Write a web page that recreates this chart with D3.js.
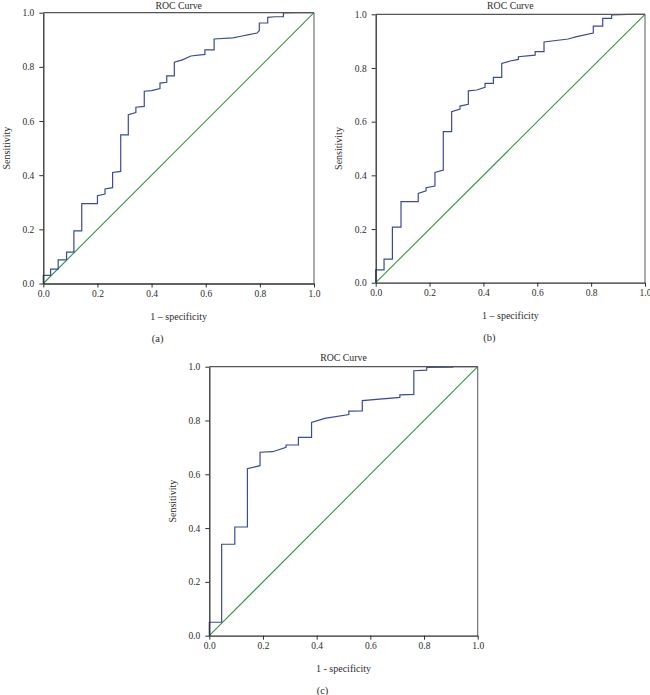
<!DOCTYPE html>
<html>
<head>
<meta charset="utf-8">
<script src="https://cdn.jsdelivr.net/npm/d3@7"></script>
<style>
  html, body { margin: 0; padding: 0; background: #fff; }
  svg { display: block; }
  text { font-family: "Liberation Serif", "Times New Roman", serif; fill: #2b2b2b; }
</style>
</head>
<body>
<svg id="chart" width="650" height="695"></svg>
<script>
// ---- Data ----
const panelLetters = ["(a)", "(b)", "(c)"];
const chartTitle = "ROC Curve";
const xLabel = "1 \u2013 specificity";
const xLabelC = "1 - specificity";
const yLabel = "Sensitivity";
const tickValues = [0, 0.2, 0.4, 0.6, 0.8, 1.0];
const diagonal = [[0, 0], [1, 1]];

// ROC curve points [1 - specificity, sensitivity]
const rocA = [[0,0],[0,0.03],[0.027,0.03],[0.027,0.053],[0.055,0.053],[0.055,0.087],[0.086,0.087],[0.086,0.116],
  [0.113,0.116],[0.113,0.194],[0.142,0.194],[0.142,0.295],[0.2,0.295],[0.2,0.324],[0.228,0.33],[0.228,0.349],
  [0.256,0.354],[0.256,0.41],[0.286,0.414],[0.286,0.549],[0.314,0.549],[0.314,0.623],[0.342,0.631],[0.342,0.651],
  [0.373,0.654],[0.373,0.71],[0.4,0.712],[0.431,0.72],[0.431,0.74],[0.456,0.743],[0.456,0.767],[0.484,0.767],
  [0.484,0.817],[0.514,0.826],[0.545,0.84],[0.597,0.846],[0.597,0.863],[0.631,0.863],[0.631,0.903],[0.7,0.907],
  [0.73,0.913],[0.76,0.919],[0.79,0.925],[0.798,0.934],[0.798,0.962],[0.829,0.962],[0.829,0.983],[0.856,0.985],
  [0.887,0.985],[0.887,0.999],[0.941,1.0],[1,1]];
const rocB = [[0,0],[0,0.048],[0.031,0.048],[0.031,0.088],[0.062,0.088],[0.062,0.207],[0.094,0.207],[0.094,0.302],
  [0.158,0.302],[0.158,0.333],[0.187,0.342],[0.187,0.354],[0.22,0.36],[0.22,0.411],[0.251,0.42],[0.251,0.563],
  [0.282,0.563],[0.282,0.637],[0.313,0.647],[0.313,0.658],[0.344,0.665],[0.344,0.715],[0.375,0.718],[0.406,0.728],
  [0.406,0.743],[0.437,0.743],[0.437,0.765],[0.468,0.765],[0.468,0.817],[0.499,0.826],[0.53,0.832],[0.53,0.842],
  [0.592,0.848],[0.592,0.861],[0.625,0.861],[0.625,0.897],[0.715,0.908],[0.746,0.917],[0.808,0.93],[0.808,0.956],
  [0.843,0.956],[0.843,0.985],[0.876,0.985],[0.876,0.998],[0.938,1.0],[1,1]];
const rocC = [[0,0],[0,0.05],[0.046,0.05],[0.046,0.34],[0.095,0.34],[0.095,0.404],[0.142,0.404],[0.142,0.621],
  [0.189,0.632],[0.189,0.682],[0.236,0.684],[0.286,0.7],[0.286,0.709],[0.332,0.709],[0.332,0.737],[0.381,0.737],
  [0.381,0.793],[0.43,0.808],[0.52,0.822],[0.52,0.835],[0.57,0.836],[0.57,0.874],[0.71,0.886],[0.71,0.895],
  [0.762,0.897],[0.762,0.985],[0.81,0.987],[0.81,0.997],[0.907,0.998],[0.907,1],[1,1]];

// ---- Layout ----
const panels = [
  { roc: rocA, letter: panelLetters[0], xl: xLabel,  x0: 43.3,  x1: 314,   y0: 12.7,  y1: 283.5 },
  { roc: rocB, letter: panelLetters[1], xl: xLabel,  x0: 375.7, x1: 645,   y0: 14.3,  y1: 282.7 },
  { roc: rocC, letter: panelLetters[2], xl: xLabelC, x0: 209.3, x1: 477.7, y0: 366.7, y1: 635.7 }
];

const svg = d3.select("#chart");
const axisColor = "#2e2e2e";
const curveColor = "#3a4a9c";
const diagColor = "#2f9a3c";

panels.forEach(p => {
  const x = d3.scaleLinear().domain([0, 1]).range([p.x0, p.x1]);
  const y = d3.scaleLinear().domain([0, 1]).range([p.y1, p.y0]);
  const g = svg.append("g");
  const line = d3.line().x(d => x(d[0])).y(d => y(d[1]));

  // diagonal reference line
  g.append("path").datum(diagonal).attr("d", line)
    .attr("fill", "none").attr("stroke", diagColor).attr("stroke-width", 1.1);

  // ROC curve
  g.append("path").datum(p.roc).attr("d", line)
    .attr("fill", "none").attr("stroke", curveColor).attr("stroke-width", 1.2)
    .attr("stroke-linejoin", "miter");

  // frame top and right
  g.append("line").attr("x1", x(0)).attr("x2", x(1)).attr("y1", y(1)).attr("y2", y(1))
    .attr("stroke", "#555").attr("stroke-width", 1.2);
  g.append("line").attr("x1", x(1)).attr("x2", x(1)).attr("y1", y(0)).attr("y2", y(1))
    .attr("stroke", "#666").attr("stroke-width", 1.1);

  // axes
  const fmt = d3.format(".1f");
  const xAxis = g.append("g").attr("transform", `translate(0,${p.y1})`)
    .call(d3.axisBottom(x).tickValues(tickValues).tickFormat(fmt).tickSize(4).tickPadding(3).tickSizeOuter(0));
  const yAxis = g.append("g").attr("transform", `translate(${p.x0},0)`)
    .call(d3.axisLeft(y).tickValues(tickValues).tickFormat(fmt).tickSize(4).tickPadding(5).tickSizeOuter(0));
  [xAxis, yAxis].forEach(a => {
    a.select(".domain").attr("stroke", axisColor).attr("stroke-width", 1.3);
    a.selectAll(".tick line").attr("stroke", axisColor).attr("stroke-width", 1);
    a.selectAll(".tick text").attr("font-size", 9.5).attr("fill", "#2b2b2b")
      .attr("font-family", "Liberation Serif, Times New Roman, serif");
  });

  const cx = (p.x0 + p.x1) / 2;
  // title (kept fully inside the picture)
  g.append("text").attr("x", cx).attr("y", Math.max(p.y0 - 6, 8.6)).attr("text-anchor", "middle")
    .attr("font-size", 9.8).text(chartTitle);
  // x label
  g.append("text").attr("x", cx).attr("y", p.y1 + 36).attr("text-anchor", "middle")
    .attr("font-size", 10).text(p.xl);
  // panel letter
  g.append("text").attr("x", cx - 21).attr("y", p.y1 + 58).attr("text-anchor", "middle")
    .attr("font-size", 10.5).text(p.letter);
  // y label
  const ym = (p.y0 + p.y1) / 2;
  g.append("text").attr("transform", `translate(${p.x0 - 37},${ym}) rotate(-90)`)
    .attr("text-anchor", "middle").attr("dominant-baseline", "central")
    .attr("font-size", 10).text(yLabel);
});
</script>
</body>
</html>
